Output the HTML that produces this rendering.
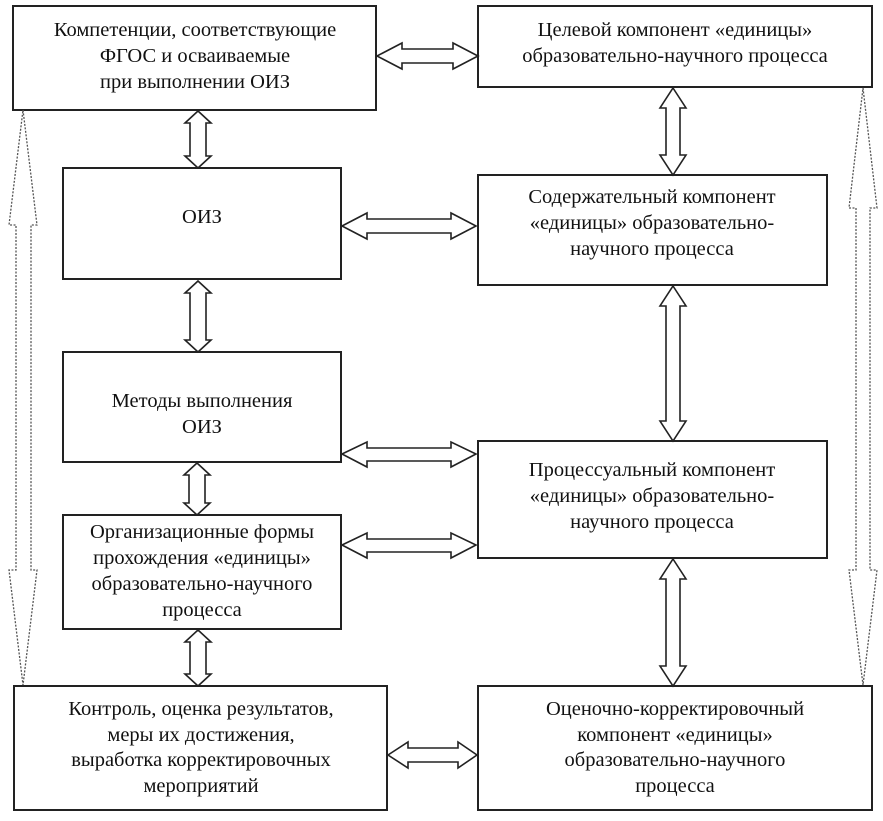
<!DOCTYPE html>
<html><head><meta charset="utf-8"><style>
html,body{margin:0;padding:0;background:#fff}
svg{display:block}
text{font-family:"Liberation Serif",serif;font-size:20.5px;fill:#111}
</style></head><body>
<svg width="883" height="821" viewBox="0 0 883 821" xmlns="http://www.w3.org/2000/svg">
<g fill="#fff" stroke="#222" stroke-width="2">
<rect x="13" y="6" width="363" height="104"/>
<rect x="478" y="6" width="394" height="81"/>
<rect x="63" y="168" width="278" height="111"/>
<rect x="478" y="175" width="349" height="110"/>
<rect x="63" y="352" width="278" height="110"/>
<rect x="478" y="441" width="349" height="117"/>
<rect x="63" y="515" width="278" height="114"/>
<rect x="14" y="686" width="373" height="124"/>
<rect x="478" y="686" width="394" height="124"/>
</g>
<g fill="#fff" stroke="#222" stroke-width="1.6">
<!-- horizontal double arrows -->
<polygon points="377,56 402,43 402,49 453,49 453,43 478,56 453,69 453,63 402,63 402,69"/>
<polygon points="342,226 367,213 367,219 451,219 451,213 476,226 451,239 451,233 367,233 367,239"/>
<polygon points="342,454 367,442 367,448 451,448 451,442 476,454 451,467 451,461 367,461 367,467"/>
<polygon points="342,545 367,533 367,539 451,539 451,533 476,545 451,558 451,552 367,552 367,558"/>
<polygon points="388,755 408,742 408,748 458,748 458,742 477,755 458,768 458,762 408,762 408,768"/>
<!-- vertical double arrows -->
<polygon points="198,111 211,123 206,123 206,156 211,156 198,168 185,156 190,156 190,123 185,123"/>
<polygon points="198,281 211,293 206,293 206,340 211,340 198,352 185,340 190,340 190,293 185,293"/>
<polygon points="197,463 210,475 205,475 205,503 210,503 197,515 184,503 189,503 189,475 184,475"/>
<polygon points="198,630 211,642 206,642 206,674 211,674 198,686 185,674 190,674 190,642 185,642"/>
<polygon points="673,88 686,108 680,108 680,155 686,155 673,175 660,155 666,155 666,108 660,108"/>
<polygon points="673,286 686,306 680,306 680,421 686,421 673,441 660,421 666,421 666,306 660,306"/>
<polygon points="673,559 686,579 680,579 680,666 686,666 673,686 660,666 666,666 666,579 660,579"/>
</g>
<g fill="none" stroke="#555" stroke-width="1.3" stroke-dasharray="2,1.5">
<polygon points="23,110 37,225 31,225 31,570 37,570 23,685 9,570 16,570 16,225 9,225"/>
<polygon points="863,88 877,208 870,208 870,570 877,570 863,685 849,570 856,570 856,208 849,208"/>
</g>
<g text-anchor="middle">
<text x="195" y="36">Компетенции, соответствующие</text>
<text x="195" y="62">ФГОС и осваиваемые</text>
<text x="195" y="88">при выполнении ОИЗ</text>
<text x="675" y="36">Целевой компонент «единицы»</text>
<text x="675" y="62">образовательно-научного процесса</text>
<text x="202" y="223">ОИЗ</text>
<text x="652" y="203">Содержательный компонент</text>
<text x="652" y="229">«единицы» образовательно-</text>
<text x="652" y="255">научного процесса</text>
<text x="202" y="407">Методы выполнения</text>
<text x="202" y="433">ОИЗ</text>
<text x="652" y="476">Процессуальный компонент</text>
<text x="652" y="502">«единицы» образовательно-</text>
<text x="652" y="528">научного процесса</text>
<text x="202" y="538">Организационные формы</text>
<text x="202" y="564">прохождения «единицы»</text>
<text x="202" y="590">образовательно-научного</text>
<text x="202" y="616">процесса</text>
<text x="201" y="715">Контроль, оценка результатов,</text>
<text x="201" y="741">меры их достижения,</text>
<text x="201" y="766">выработка корректировочных</text>
<text x="201" y="792">мероприятий</text>
<text x="675" y="715">Оценочно-корректировочный</text>
<text x="675" y="741">компонент «единицы»</text>
<text x="675" y="766">образовательно-научного</text>
<text x="675" y="792">процесса</text>
</g>
</svg>
</body></html>
